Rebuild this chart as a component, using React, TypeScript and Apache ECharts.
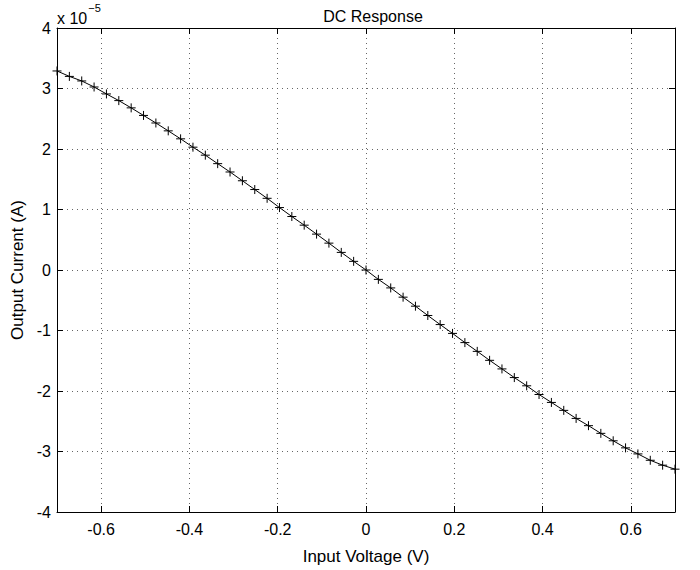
import React, { useEffect, useRef } from "react";
import * as echarts from "echarts";

const titleText = "DC Response";
const xAxisName = "Input Voltage (V)";
const yAxisName = "Output Current (A)";
const yMultiplier = "x 10";
const yExponent = "−5";

// Input voltage (V) at each marker
const inputVoltage = [
  -0.7, -0.672, -0.644, -0.616, -0.588, -0.56, -0.532, -0.504, -0.476, -0.448,
  -0.42, -0.392, -0.364, -0.336, -0.308, -0.28, -0.252, -0.224, -0.196, -0.168,
  -0.14, -0.112, -0.084, -0.056, -0.028, 0, 0.028, 0.056, 0.084, 0.112,
  0.14, 0.168, 0.196, 0.224, 0.252, 0.28, 0.308, 0.336, 0.364, 0.392,
  0.42, 0.448, 0.476, 0.504, 0.532, 0.56, 0.588, 0.616, 0.644, 0.672, 0.7,
];

// Output current in units of 1e-5 A
const outputCurrentE5 = [
  3.29, 3.2, 3.125, 3.025, 2.91, 2.8, 2.68, 2.555, 2.43, 2.3,
  2.168, 2.03, 1.898, 1.758, 1.62, 1.475, 1.33, 1.185, 1.032, 0.884,
  0.741, 0.593, 0.444, 0.291, 0.143, 0, -0.155, -0.296, -0.449, -0.598,
  -0.752, -0.902, -1.048, -1.2, -1.345, -1.493, -1.635, -1.778, -1.914, -2.058,
  -2.189, -2.32, -2.453, -2.573, -2.7, -2.823, -2.94, -3.04, -3.145, -3.226, -3.292,
];

const FONT = "'Liberation Sans', Arial, Helvetica, sans-serif";

export default function App() {
  const ref = useRef<HTMLDivElement>(null);

  useEffect(() => {
    if (!ref.current) return;
    const chart = echarts.init(ref.current, null, { renderer: "svg" });
    const data = inputVoltage.map((x, i) => [x, outputCurrentE5[i]]);
    const tickStyle = { inside: true, length: 6, lineStyle: { color: "#000", width: 1 } };
    const axisLineStyle = { show: true, onZero: false, lineStyle: { color: "#000", width: 1 } };
    const gridLine = { show: true, lineStyle: { color: "#666", width: 1, type: [1, 4] as any } };

    chart.setOption({
      animation: false,
      backgroundColor: "#fff",
      textStyle: { fontFamily: FONT },
      title: {
        text: titleText,
        left: 368,
        top: 3,
        textAlign: "center",
        textStyle: { fontFamily: FONT, fontSize: 16, fontWeight: "normal", color: "#000" },
      },
      graphic: [
        {
          type: "text",
          left: 57,
          top: 2,
          style: {
            text: `{b|${yMultiplier}}{s|${yExponent}}`,
            rich: {
              b: { fontFamily: FONT, fontSize: 16, fill: "#000", verticalAlign: "bottom", padding: [8, 0, 0, 0] },
              s: { fontFamily: FONT, fontSize: 11, fill: "#000", verticalAlign: "top", padding: [0, 0, 9, 1] },
            },
          },
        },
      ],
      grid: { left: 57, right: 25, top: 28, bottom: 56, containLabel: false },
      xAxis: [
        {
          type: "value",
          min: -0.7,
          max: 0.7,
          splitNumber: 7,
          position: "bottom",
          axisLine: axisLineStyle,
          axisTick: tickStyle,
          splitLine: gridLine,
          axisLabel: {
            showMinLabel: false,
            showMaxLabel: false,
            margin: 9,
            color: "#000",
            fontSize: 16,
            fontFamily: FONT,
            formatter: (v: number) => String(Math.round(v * 10) / 10),
          },
          name: xAxisName,
          nameLocation: "middle",
          nameGap: 36,
          nameTextStyle: { color: "#000", fontSize: 17, fontFamily: FONT },
        },
        {
          type: "value",
          min: -0.7,
          max: 0.7,
          splitNumber: 7,
          position: "top",
          axisLine: axisLineStyle,
          axisTick: tickStyle,
          splitLine: { show: false },
          axisLabel: { show: false },
        },
      ],
      yAxis: [
        {
          type: "value",
          min: -4,
          max: 4,
          interval: 1,
          position: "left",
          axisLine: axisLineStyle,
          axisTick: tickStyle,
          splitLine: gridLine,
          axisLabel: { margin: 6, color: "#000", fontSize: 16, fontFamily: FONT },
          name: yAxisName,
          nameLocation: "middle",
          nameGap: 30,
          nameTextStyle: { color: "#000", fontSize: 17, fontFamily: FONT },
        },
        {
          type: "value",
          min: -4,
          max: 4,
          interval: 1,
          position: "right",
          axisLine: axisLineStyle,
          axisTick: tickStyle,
          splitLine: { show: false },
          axisLabel: { show: false },
        },
      ],
      series: [
        {
          type: "line",
          xAxisIndex: 0,
          yAxisIndex: 0,
          data,
          clip: false,
          symbol: "path://M0,5 L10,5 M5,0 L5,10",
          symbolSize: 9,
          showAllSymbol: true,
          lineStyle: { color: "#000", width: 1 },
          itemStyle: { color: "rgba(0,0,0,0)", borderColor: "#000", borderWidth: 1 },
        },
      ],
    });

    return () => chart.dispose();
  }, []);

  return (
    <div
      ref={ref}
      style={{ position: "fixed", left: 0, top: 0, width: 700, height: 570, background: "#fff" }}
    />
  );
}
